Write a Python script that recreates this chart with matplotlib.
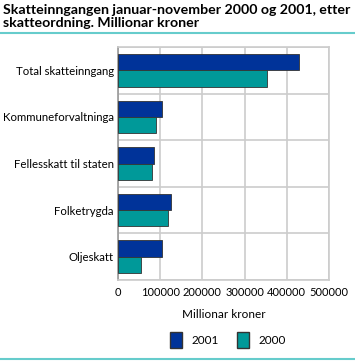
import matplotlib.pyplot as plt
import numpy as np
from matplotlib.patches import Patch
from matplotlib.lines import Line2D

plt.rcParams['font.family'] = ['Lato', 'DejaVu Sans']

categories = ['Total skatteinngang', 'Kommuneforvaltninga', 'Fellesskatt til staten',
              'Folketrygda', 'Oljeskatt']
v2001 = [430000, 105000, 85000, 126000, 105000]
v2000 = [354000, 91000, 81000, 119000, 54000]
xticks = [0, 100000, 200000, 300000, 400000, 500000]

c2001 = '#003399'
c2000 = '#009999'

fig = plt.figure(figsize=(3.55, 3.61), dpi=100)
ax = fig.add_axes([118 / 355, 1 - 280 / 361, 211 / 355, 233 / 361])

y = np.arange(len(categories))
h = 0.35
ax.barh(y - h / 2, v2001, height=h, color=c2001, edgecolor='#333333', linewidth=0.6, zorder=3)
ax.barh(y + h / 2, v2000, height=h, color=c2000, edgecolor='#333333', linewidth=0.6, zorder=3)

ax.set_ylim(len(categories) - 0.5, -0.5)
ax.set_xlim(0, 500000)
ax.set_xticks(xticks)
ax.set_xticklabels([str(t) for t in xticks], fontsize=8)
ax.set_yticks(y)
ax.set_yticklabels(categories, fontsize=8.2)
ax.set_yticks(np.arange(len(categories) + 1) - 0.5, minor=True)
ax.tick_params(axis='x', length=0, pad=5)
ax.tick_params(axis='y', length=0, pad=3)
ax.tick_params(axis='y', which='minor', length=0)
ax.grid(axis='x', color='#cccccc', linewidth=1.2, zorder=0)
ax.grid(axis='y', which='minor', color='#cccccc', linewidth=1.2, zorder=0)
for s in ax.spines.values():
    s.set_color('#cccccc')
    s.set_linewidth(1.2)
ax.spines['left'].set_color('#999999')

ax.set_xlabel('Millionar kroner', fontsize=8.5, labelpad=8)

handles = [Patch(facecolor=c2001, edgecolor='#333333', label='2001'),
           Patch(facecolor=c2000, edgecolor='#333333', label='2000')]
fig.legend(handles=handles, loc='center', bbox_to_anchor=(228 / 355, 1 - 340 / 361),
           ncol=2, frameon=False, fontsize=8.5, handlelength=1.0, handleheight=1.8,
           columnspacing=1.6)

fig.text(3 / 355, 1 - 4 / 361, 'Skatteinngangen januar-november 2000 og 2001, etter\nskatteordning. Millionar kroner',
         fontsize=10.2, fontweight='bold', va='top', ha='left', linespacing=1.1)
fig.add_artist(Line2D([0, 1], [1 - 33 / 361] * 2, color='#66cccc', linewidth=1.5))
fig.add_artist(Line2D([0, 1], [1 - 359 / 361] * 2, color='#66cccc', linewidth=1.5))

fig.savefig('out.png', dpi=100)
